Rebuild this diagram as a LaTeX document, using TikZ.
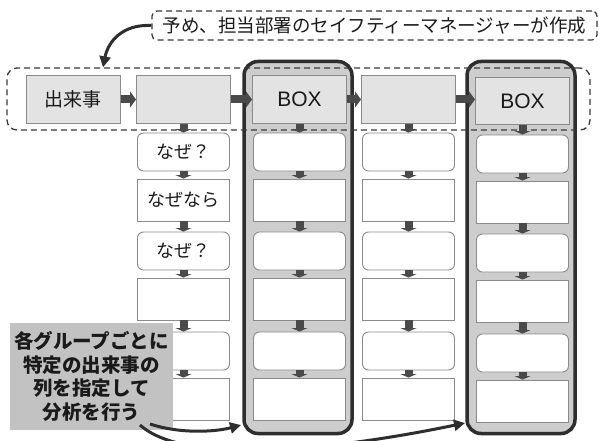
\documentclass[tikz,border=0pt]{standalone}
\usepackage{fontspec}
\setmainfont{Liberation Sans}
\newfontfamily\jp{Noto Sans CJK JP}
\usetikzlibrary{arrows.meta}
\definecolor{topfill}{HTML}{E3E3E3}
\definecolor{boxborder}{HTML}{8A8A8A}
\definecolor{outfill}{HTML}{CDCDCD}
\definecolor{outdraw}{HTML}{2E2E2E}
\definecolor{arrowcol}{HTML}{4A4A4A}
\definecolor{labfill}{HTML}{C2C2C2}
\definecolor{dashcol}{HTML}{3A3A3A}
\definecolor{txt}{HTML}{1A1A1A}
\begin{document}
\begin{tikzpicture}[x=1pt,y=-1pt,
  topbox/.style={draw=boxborder, fill=topfill, line width=1pt, minimum width=94pt, minimum height=47pt, inner sep=0pt, text=txt},
  subsq/.style={draw=boxborder, fill=white, line width=0.9pt, minimum width=92pt, minimum height=42pt, inner sep=0pt, text=txt, font=\jp\fontsize{18}{20}\selectfont},
  subrd/.style={subsq, rounded corners=6pt, minimum height=38pt},
  outline/.style={draw=outdraw, fill=outfill, line width=3.5pt, rounded corners=14pt, minimum width=108pt, minimum height=372pt, inner sep=0pt},
  harrow/.style={draw=arrowcol, line width=8pt, -{Triangle[width=16pt,length=6pt]}},
  varrow/.style={draw=arrowcol, line width=8pt, -{Triangle[width=16pt,length=3.5pt]}},
  dashbox/.style={draw=dashcol, line width=1.3pt, dash pattern=on 6pt off 4pt},
  curvarrow/.style={draw=outdraw, line width=3pt, -{Triangle[width=11pt,length=11pt]}}
]
\fill[white] (0,0) rectangle (599,441);
\useasboundingbox (0,0) rectangle (599,441);

% highlighted columns
\node[outline] (o3) at (298,247.5) {};
\node[outline] (o5) at (521,247.5) {};

% top row
\node[topbox, font=\jp\fontsize{19}{22}\selectfont] (t1) at (73,99.5) {出来事};
\node[topbox] (t2) at (183.5,99.5) {};
\node[topbox, font=\fontsize{21}{24}\selectfont] (t3) at (299.5,99.5) {BOX};
\node[topbox] (t4) at (408.5,99.5) {};
\node[topbox, font=\fontsize{21}{24}\selectfont] (t5) at (522.5,101) {BOX};

% column 2 with text
\node[subrd] (s21) at (183.5,152) {なぜ？};
\node[subsq] (s22) at (183.5,200) {なぜなら};
\node[subrd] (s23) at (183.5,251) {なぜ？};
\node[subsq] (s24) at (183.5,299) {};
\node[subrd] (s25) at (183.5,351) {};
\node[subsq] (s26) at (183.5,399) {};

% columns 3-5
\foreach \c/\x/\d in {3/299.5/0,4/408.5/0,5/522.5/2}{
  \node[subrd] (s\c1) at (\x,152+\d) {};
  \node[subsq] (s\c2) at (\x,200+\d) {};
  \node[subrd] (s\c3) at (\x,251+\d) {};
  \node[subsq] (s\c4) at (\x,299+\d) {};
  \node[subrd] (s\c5) at (\x,351+\d) {};
  \node[subsq] (s\c6) at (\x,399+\d) {};
}

% dashed group around top row
\node[dashbox, rounded corners=10pt, minimum width=583pt, minimum height=62pt] (grp) at (298.5,99) {};

% horizontal arrows
\draw[harrow] (t1.east) -- (t2.west);
\draw[harrow] (t2.east) -- (t3.west);
\draw[harrow] (t3.east) -- (t4.west);
\draw[harrow] (t4.east) -- (t4.east -| t5.west);

% vertical arrows
\foreach \c in {2,3,4,5}{
  \draw[varrow] (t\c.south) -- (s\c1.north);
  \draw[varrow] (s\c1.south) -- (s\c2.north);
  \draw[varrow] (s\c2.south) -- (s\c3.north);
  \draw[varrow] (s\c3.south) -- (s\c4.north);
  \draw[varrow] (s\c4.south) -- (s\c5.north);
  \draw[varrow] (s\c5.south) -- (s\c6.north);
}

% callout at top
\node[dashbox, rounded corners=5pt, minimum width=445pt, minimum height=29pt, inner sep=0pt, text=txt, font=\jp\fontsize{18.5}{22}\selectfont] (note) at (374.5,25.5) {予め、担当部署のセイフティーマネージャーが作成};
\coordinate (cA) at (103,0);
\draw[curvarrow] (note.west) .. controls (122,24) and (108,42) .. (grp.north -| cA);

% label box bottom left
\node[fill=labfill, minimum width=163pt, minimum height=107pt, inner sep=0pt, align=center, text=txt, font=\jp\bfseries\fontsize{19.5}{23.5}\selectfont] (lab) at (91.5,376.5) {各グループごとに\\特定の出来事の\\列を指定して\\分析を行う};

\coordinate (a1s) at (150,424);
\coordinate (a1e) at (241,425);
\coordinate (a2s) at (140,425);
\coordinate (a2e) at (465,423);
\draw[curvarrow] (a1s) .. controls (180,434) and (215,432) .. (a1e);
\draw[curvarrow] (a2s) .. controls (190,470) and (360,445) .. (a2e);
\end{tikzpicture}
\end{document}
